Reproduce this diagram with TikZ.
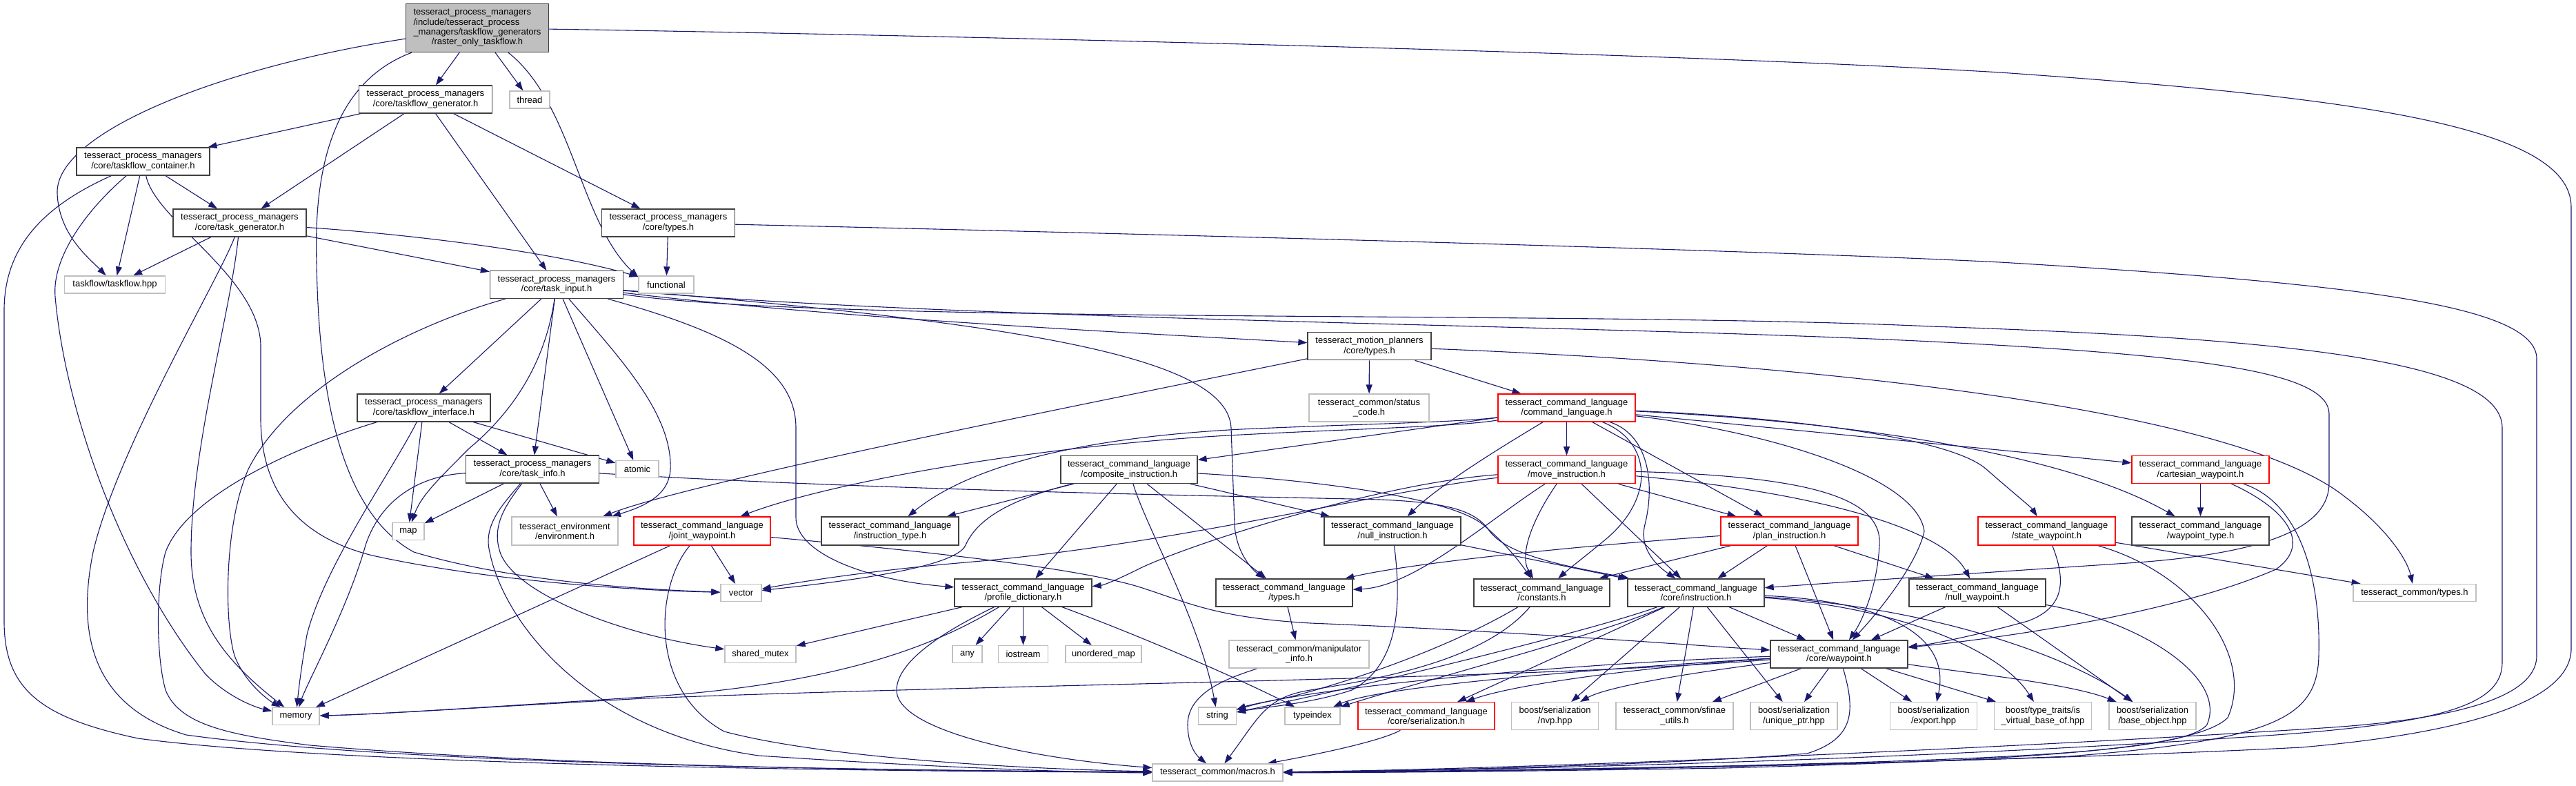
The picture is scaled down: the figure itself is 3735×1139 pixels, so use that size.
\documentclass[tikz,border=0pt]{standalone}
\usepackage{fontspec}
\setmainfont{Liberation Sans}
\usetikzlibrary{arrows.meta}
\definecolor{edgec}{HTML}{191970}
\definecolor{docc}{HTML}{404040}
\definecolor{extc}{HTML}{BFBFBF}
\definecolor{rootfill}{HTML}{BFBFBF}
\newcommand{\nodefont}{\fontsize{13}{14.3}\selectfont}
\pgfdeclarelayer{back}
\pgfdeclarelayer{edges}
\pgfsetlayers{back,edges,main}
\tikzset{
  gbox/.style={rectangle, inner sep=0pt, align=center, font=\nodefont, line width=1.3pt, fill=white},
  doc/.style={gbox, draw=docc},
  ext/.style={gbox, draw=extc},
  trunc/.style={gbox, draw=red},
  rootbox/.style={gbox, draw=docc, fill=rootfill},
  e/.style={draw=edgec, line width=1.1pt, -{Triangle[length=13pt,width=9pt]}},
}
\begin{document}
\begin{tikzpicture}[x=1pt,y=-1pt]
\begin{pgfonlayer}{back}
\fill[white] (0,0) rectangle (3735,1139);
\end{pgfonlayer}
\path[use as bounding box] (0,0) rectangle (3735,1139);

% ---------- nodes ----------
\node[rootbox, minimum width=207pt, minimum height=70pt] (root) at (692,40.5)
  {\begin{tabular}{@{}l@{}}tesseract\_process\_managers\\/include/tesseract\_process\\\_managers/taskflow\_generators\\\multicolumn{1}{@{}c@{}}{/raster\_only\_taskflow.h}\end{tabular}};
\node[ext, minimum width=58pt, minimum height=25pt] (thread) at (768,144.5) {thread};
\node[doc, minimum width=193pt, minimum height=40pt] (tfgen) at (617,144) {tesseract\_process\_managers\\/core/taskflow\_generator.h};
\node[doc, minimum width=193pt, minimum height=40pt] (tfcont) at (207.5,234) {tesseract\_process\_managers\\/core/taskflow\_container.h};
\node[doc, minimum width=193pt, minimum height=40pt] (taskgen) at (347.5,323) {tesseract\_process\_managers\\/core/task\_generator.h};
\node[doc, minimum width=193pt, minimum height=40pt] (pmtypes) at (969,323) {tesseract\_process\_managers\\/core/types.h};
\node[ext, minimum width=146pt, minimum height=25pt] (tfhpp) at (166.5,412.5) {taskflow/taskflow.hpp};
\node[ext, minimum width=80pt, minimum height=25pt] (functional) at (966,412.5) {functional};
\node[doc, minimum width=193pt, minimum height=40pt] (taskinput) at (807,412.5) {tesseract\_process\_managers\\/core/task\_input.h};
\node[doc, minimum width=179pt, minimum height=40pt] (mptypes) at (1985.5,501.7) {tesseract\_motion\_planners\\/core/types.h};
\node[doc, minimum width=193pt, minimum height=40pt] (tfiface) at (614.5,591) {tesseract\_process\_managers\\/core/taskflow\_interface.h};
\node[ext, minimum width=174pt, minimum height=40pt] (statuscode) at (1985,591) {tesseract\_common/status\\\_code.h};
\node[trunc, minimum width=199pt, minimum height=40pt] (cmdlang) at (2271.5,591) {tesseract\_command\_language\\/command\_language.h};
\node[doc, minimum width=193pt, minimum height=40pt] (taskinfo) at (772,680) {tesseract\_process\_managers\\/core/task\_info.h};
\node[ext, minimum width=62pt, minimum height=25pt] (atomic) at (924,680) {atomic};
\node[doc, minimum width=198pt, minimum height=40pt] (compinst) at (1637,680.5) {tesseract\_command\_language\\/composite\_instruction.h};
\node[trunc, minimum width=199pt, minimum height=40pt] (moveinst) at (2271.5,680.7) {tesseract\_command\_language\\/move\_instruction.h};
\node[trunc, minimum width=199pt, minimum height=40pt] (cartwp) at (3190.5,680.5) {tesseract\_command\_language\\/cartesian\_waypoint.h};
\node[ext, minimum width=46pt, minimum height=25pt] (map) at (592,770) {map};
\node[ext, minimum width=154pt, minimum height=41pt] (env) at (819,769.5) {tesseract\_environment\\/environment.h};
\node[trunc, minimum width=198pt, minimum height=41pt] (jointwp) at (1018,769.5) {tesseract\_command\_language\\/joint\_waypoint.h};
\node[doc, minimum width=199pt, minimum height=41pt] (insttype) at (1290.5,769.5) {tesseract\_command\_language\\/instruction\_type.h};
\node[doc, minimum width=198pt, minimum height=41pt] (nullinst) at (2019,769.5) {tesseract\_command\_language\\/null\_instruction.h};
\node[trunc, minimum width=199pt, minimum height=41pt] (planinst) at (2594.5,769.5) {tesseract\_command\_language\\/plan\_instruction.h};
\node[trunc, minimum width=199pt, minimum height=41pt] (statewp) at (2967.5,769.5) {tesseract\_command\_language\\/state\_waypoint.h};
\node[doc, minimum width=199pt, minimum height=41pt] (wptype) at (3190.5,769.5) {tesseract\_command\_language\\/waypoint\_type.h};
\node[ext, minimum width=59pt, minimum height=25pt] (vector) at (1074.5,859) {vector};
\node[doc, minimum width=199pt, minimum height=40pt] (profdict) at (1483.5,859) {tesseract\_command\_language\\/profile\_dictionary.h};
\node[doc, minimum width=198pt, minimum height=40pt] (cltypes) at (1862,859) {tesseract\_command\_language\\/types.h};
\node[doc, minimum width=197pt, minimum height=40pt] (constants) at (2235.5,859) {tesseract\_command\_language\\/constants.h};
\node[doc, minimum width=198pt, minimum height=40pt] (coreinst) at (2459,859) {tesseract\_command\_language\\/core/instruction.h};
\node[doc, minimum width=198pt, minimum height=40pt] (nullwp) at (2867,859) {tesseract\_command\_language\\/null\_waypoint.h};
\node[ext, minimum width=178pt, minimum height=25pt] (commontypes) at (3501,859) {tesseract\_common/types.h};
\node[ext, minimum width=103pt, minimum height=25pt] (sharedmutex) at (1102.5,948) {shared\_mutex};
\node[ext, minimum width=43pt, minimum height=25pt] (any) at (1402.5,948) {any};
\node[ext, minimum width=72pt, minimum height=25pt] (iostream) at (1483.5,948) {iostream};
\node[ext, minimum width=110pt, minimum height=25pt] (unordmap) at (1600,948) {unordered\_map};
\node[ext, minimum width=203pt, minimum height=40pt] (manip) at (1883.5,948) {tesseract\_common/manipulator\\\_info.h};
\node[doc, minimum width=199pt, minimum height=40pt] (corewp) at (2666.5,948) {tesseract\_command\_language\\/core/waypoint.h};
\node[ext, minimum width=68pt, minimum height=25pt] (memory) at (429,1038) {memory};
\node[ext, minimum width=55pt, minimum height=25pt] (string) at (1765,1037.5) {string};
\node[ext, minimum width=80pt, minimum height=25pt] (typeindex) at (1903,1037.5) {typeindex};
\node[trunc, minimum width=198pt, minimum height=40pt] (serial) at (2068,1037.7) {tesseract\_command\_language\\/core/serialization.h};
\node[ext, minimum width=126pt, minimum height=40pt] (nvp) at (2254.6,1037.7) {boost/serialization\\/nvp.hpp};
\node[ext, minimum width=170pt, minimum height=40pt] (sfinae) at (2428,1037.7) {tesseract\_common/sfinae\\\_utils.h};
\node[ext, minimum width=126pt, minimum height=40pt] (uniqueptr) at (2601,1037.7) {boost/serialization\\/unique\_ptr.hpp};
\node[ext, minimum width=126pt, minimum height=40pt] (export) at (2803.6,1037.7) {boost/serialization\\/export.hpp};
\node[ext, minimum width=141pt, minimum height=40pt] (isvirtual) at (2962,1037.7) {boost/type\_traits/is\\\_virtual\_base\_of.hpp};
\node[ext, minimum width=126pt, minimum height=40pt] (baseobj) at (3121,1037.7) {boost/serialization\\/base\_object.hpp};
\node[ext, minimum width=189pt, minimum height=25pt] (macros) at (1765.5,1119.5) {tesseract\_common/macros.h};

% ---------- edges ----------
\begin{pgfonlayer}{edges}
% root
\draw[e] (root) -- (tfgen);
\draw[e] (root) -- (thread);
\draw[e] (root) .. controls (330,95) and (80,190) .. (83,280) .. controls (85,340) and (130,375) .. (tfhpp);
\draw[e] (root) .. controls (480,120) and (455,250) .. (459,380) .. controls (462,560) and (490,740) .. (600,800) .. controls (750,845) and (950,855) .. (vector);
\draw[e] (root) .. controls (830,150) and (840,320) .. (functional.165);
\draw[e] (root) .. controls (1300,50) and (2400,75) .. (2900,105) .. controls (3400,140) and (3728,180) .. (3728,300) -- (3728,940) .. controls (3728,1010) and (3600,1060) .. (3337,1083) .. controls (2900,1105) and (2200,1118) .. (macros);
% taskflow_generator
\draw[e] (tfgen) -- (tfcont);
\draw[e] (tfgen) -- (taskgen);
\draw[e] (tfgen) -- (taskinput);
\draw[e] (tfgen) -- (pmtypes);
% taskflow_container
\draw[e] (tfcont) -- (taskgen);
\draw[e] (tfcont) -- (tfhpp);
\draw[e] (tfcont) .. controls (130,300) and (75,370) .. (80,430) .. controls (95,600) and (180,830) .. (298,977) .. controls (330,1010) and (370,1025) .. (memory);
\draw[e] (tfcont) .. controls (225,320) and (375,400) .. (378,500) -- (378,610) .. controls (380,720) and (440,780) .. (540,805) .. controls (700,840) and (900,855) .. (vector);
\draw[e] (tfcont) .. controls (60,300) and (6,360) .. (6,450) -- (6,900) .. controls (6,1000) and (60,1040) .. (200,1070) .. controls (500,1110) and (1300,1118) .. (macros);
% task_generator
\draw[e] (taskgen) -- (tfhpp);
\draw[e] (taskgen) .. controls (320,400) and (170,650) .. (135,800) .. controls (115,900) and (120,1020) .. (270,1065) .. controls (600,1110) and (1300,1116) .. (macros);
\draw[e] (taskgen) .. controls (335,450) and (277,650) .. (277,800) .. controls (277,900) and (330,960) .. (memory);
\draw[e] (taskgen) .. controls (600,340) and (800,365) .. (functional);
\draw[e] (taskgen) -- (taskinput);
% pm types
\draw[e] (pmtypes) -- (functional);
\draw[e] (pmtypes) .. controls (1500,335) and (2500,360) .. (2900,380) .. controls (3400,410) and (3678,440) .. (3678,520) -- (3678,950) .. controls (3678,1000) and (3600,1040) .. (3367,1055) .. controls (2900,1085) and (2200,1115) .. (macros);
% task_input
\draw[e] (taskinput) -- (tfiface);
\draw[e] (taskinput) -- (taskinfo);
\draw[e] (taskinput) .. controls (790,530) and (740,600) .. (680,650) .. controls (630,700) and (610,720) .. (map);
\draw[e] (taskinput) -- (atomic);
\draw[e] (taskinput) .. controls (900,520) and (975,600) .. (972,680) .. controls (970,720) and (930,735) .. (env);
\draw[e] (taskinput) .. controls (600,470) and (420,560) .. (360,680) .. controls (325,760) and (325,900) .. (340,950) .. controls (355,990) and (390,1015) .. (memory);
\draw[e] (taskinput) .. controls (1200,470) and (2300,450) .. (2800,473) .. controls (3300,490) and (3628,520) .. (3628,620) -- (3628,960) .. controls (3628,1020) and (3546,1047) .. (3300,1065) .. controls (2800,1100) and (2200,1116) .. (macros);
\draw[e] (taskinput) .. controls (1400,465) and (2300,470) .. (2800,495) .. controls (3200,515) and (3377,540) .. (3377,600) -- (3377,700) .. controls (3377,760) and (3300,800) .. (3100,815) .. controls (2800,835) and (2650,845) .. (coreinst);
\draw[e] (taskinput) .. controls (1200,460) and (1600,480) .. (mptypes);
\draw[e] (taskinput) .. controls (1050,480) and (1154,530) .. (1154,620) -- (1154,750) .. controls (1154,800) and (1250,840) .. (profdict);
\draw[e] (taskinput) .. controls (1500,470) and (1780,520) .. (1785,620) -- (1790,760) .. controls (1792,800) and (1815,825) .. (cltypes);
% motion planners types
\draw[e] (mptypes) -- (statuscode);
\draw[e] (mptypes) -- (cmdlang);
\draw[e] (mptypes) .. controls (1500,600) and (1000,700) .. (env);
\draw[e] (mptypes) .. controls (2700,530) and (3250,600) .. (3400,720) .. controls (3460,765) and (3490,810) .. (commontypes);
% taskflow_interface
\draw[e] (tfiface) -- (taskinfo);
\draw[e] (tfiface) -- (atomic);
\draw[e] (tfiface) -- (map);
\draw[e] (tfiface) .. controls (570,680) and (470,820) .. (445,920) .. controls (438,960) and (434,990) .. (memory);
\draw[e] (tfiface) .. controls (420,650) and (270,720) .. (240,800) .. controls (226,850) and (226,950) .. (240,1000) .. controls (260,1050) and (330,1065) .. (450,1080) .. controls (800,1110) and (1300,1117) .. (macros);
% task_info
\draw[e] (taskinfo) -- (map);
\draw[e] (taskinfo) -- (env);
\draw[e] (taskinfo) .. controls (600,690) and (550,730) .. (530,790) .. controls (505,880) and (445,990) .. (memory);
\draw[e] (taskinfo) .. controls (735,730) and (712,760) .. (725,800) .. controls (745,860) and (900,920) .. (sharedmutex);
\draw[e] (taskinfo) .. controls (730,730) and (700,760) .. (710,800) .. controls (730,900) and (850,1060) .. (1100,1095) .. controls (1400,1115) and (1600,1120) .. (macros);
\draw[e] (taskinfo) .. controls (1300,712) and (1850,720) .. (2000,724) .. controls (2100,728) and (2140,740) .. (2160,770) .. controls (2190,810) and (2300,825) .. (coreinst);
% joint_waypoint
\draw[e] (jointwp) -- (vector);
\draw[e] (jointwp) -- (memory);
\draw[e] (jointwp) .. controls (1300,795) and (1550,820) .. (1650,850) .. controls (1720,872) and (1760,895) .. (1900,903) .. controls (2200,915) and (2450,935) .. (corewp);
\draw[e] (jointwp) .. controls (950,850) and (940,1000) .. (1050,1060) .. controls (1200,1100) and (1500,1115) .. (macros);
% composite_instruction
\draw[e] (compinst) -- (insttype);
\draw[e] (compinst) -- (nullinst);
\draw[e] (compinst) -- (profdict);
\draw[e] (compinst) .. controls (1480,720) and (1420,745) .. (1400,790) .. controls (1385,825) and (1200,845) .. (vector);
\draw[e] (compinst) .. controls (1660,760) and (1740,900) .. (string);
\draw[e] (compinst) -- (cltypes);
\draw[e] (compinst) .. controls (1900,695) and (2100,720) .. (2150,760) .. controls (2185,790) and (2200,810) .. (constants);
% command_language
\draw[e] (cmdlang) -- (compinst);
\draw[e] (cmdlang) .. controls (2120,618) and (1950,622) .. (1800,630) .. controls (1500,645) and (1200,700) .. (jointwp);
\draw[e] (cmdlang) .. controls (2120,612) and (1950,615) .. (1800,622) .. controls (1550,635) and (1400,680) .. (insttype);
\draw[e] (cmdlang) -- (moveinst);
\draw[e] (cmdlang) .. controls (2190,640) and (2090,700) .. (nullinst);
\draw[e] (cmdlang) -- (planinst);
\draw[e] (cmdlang) -- (cartwp);
\draw[e] (cmdlang) .. controls (2600,605) and (2830,635) .. (2880,680) .. controls (2920,715) and (2945,735) .. (statewp);
\draw[e] (cmdlang) .. controls (2700,612) and (3000,660) .. (wptype);
\draw[e] (cmdlang) .. controls (2390,630) and (2400,700) .. (2385,760) .. controls (2375,800) and (2410,825) .. (coreinst);
\draw[e] (cmdlang) .. controls (2395,640) and (2400,720) .. (2330,780) .. controls (2300,805) and (2280,820) .. (constants);
\draw[e] (cmdlang) .. controls (2560,625) and (2780,690) .. (2790,770) .. controls (2780,815) and (2730,880) .. (corewp);
% move_instruction
\draw[e] (moveinst) -- (planinst);
\draw[e] (moveinst) .. controls (2000,712) and (1700,790) .. (1400,815) .. controls (1250,828) and (1150,845) .. (vector);
\draw[e] (moveinst) .. controls (2000,700) and (1720,790) .. (1650,825) .. controls (1620,840) and (1600,848) .. (profdict);
\draw[e] (moveinst) .. controls (2230,740) and (2200,800) .. (constants);
\draw[e] (moveinst) -- (coreinst);
\draw[e] (moveinst) .. controls (2150,760) and (2050,850) .. (cltypes);
\draw[e] (moveinst) .. controls (2620,690) and (2730,720) .. (2725,790) .. controls (2722,850) and (2700,900) .. (corewp);
\draw[e] (moveinst) .. controls (2650,715) and (2820,770) .. (nullwp);
% plan_instruction
\draw[e] (planinst) -- (coreinst);
\draw[e] (planinst) -- (corewp);
\draw[e] (planinst) -- (nullwp);
\draw[e] (planinst) -- (constants);
\draw[e] (planinst) .. controls (2300,790) and (2050,815) .. (cltypes);
% null_instruction
\draw[e] (nullinst) -- (coreinst);
\draw[e] (nullinst) .. controls (2030,860) and (2035,960) .. (1960,1000) .. controls (1900,1020) and (1830,1025) .. (string);
% constants
\draw[e] (constants) .. controls (2100,940) and (1950,990) .. (1870,1010) .. controls (1830,1018) and (1810,1022) .. (string);
\draw[e] (constants) .. controls (2150,960) and (1990,985) .. (1900,1000) .. controls (1835,1010) and (1825,1040) .. (macros);
% core/instruction
\draw[e] (coreinst) -- (corewp);
\draw[e] (coreinst) -- (serial);
\draw[e] (coreinst) -- (nvp);
\draw[e] (coreinst) -- (sfinae);
\draw[e] (coreinst) -- (uniqueptr);
\draw[e] (coreinst) .. controls (2720,870) and (2830,915) .. (export);
\draw[e] (coreinst) .. controls (2750,880) and (2900,940) .. (isvirtual);
\draw[e] (coreinst) .. controls (2800,880) and (3000,950) .. (baseobj);
\draw[e] (coreinst) .. controls (2320,910) and (2000,990) .. (string);
\draw[e] (coreinst) .. controls (2320,920) and (2050,990) .. (typeindex);
% core/waypoint
\draw[e] (corewp) -- (sfinae);
\draw[e] (corewp) -- (uniqueptr);
\draw[e] (corewp) -- (export);
\draw[e] (corewp) -- (isvirtual);
\draw[e] (corewp) .. controls (2850,975) and (3000,990) .. (baseobj);
\draw[e] (corewp) .. controls (2450,975) and (2330,995) .. (nvp);
\draw[e] (corewp) .. controls (2400,965) and (2200,990) .. (serial);
\draw[e] (corewp) .. controls (2300,960) and (1900,995) .. (string);
\draw[e] (corewp) .. controls (2300,970) and (2000,995) .. (typeindex);
\draw[e] (corewp) .. controls (2200,985) and (1500,990) .. (934,1012) .. controls (700,1025) and (550,1035) .. (memory);
\draw[e] (corewp) .. controls (2690,1030) and (2690,1070) .. (2620,1092) .. controls (2400,1110) and (2000,1118) .. (macros);
% null_waypoint
\draw[e] (nullwp) -- (corewp);
\draw[e] (nullwp) -- (baseobj);
\draw[e] (nullwp) .. controls (3100,900) and (3230,980) .. (3200,1050) .. controls (3170,1090) and (2900,1100) .. (2500,1110) .. controls (2200,1116) and (1950,1119) .. (macros);
% state_waypoint
\draw[e] (statewp) .. controls (2995,840) and (2995,880) .. (2940,900) .. controls (2850,925) and (2790,935) .. (corewp);
\draw[e] (statewp) -- (commontypes);
\draw[e] (statewp) .. controls (3180,830) and (3270,950) .. (3230,1040) .. controls (3180,1090) and (2900,1102) .. (2500,1113) .. controls (2200,1118) and (1950,1120) .. (macros);
% cartesian_waypoint
\draw[e] (cartwp) -- (wptype);
\draw[e] (cartwp) .. controls (3320,740) and (3350,790) .. (3300,825) .. controls (3150,890) and (2900,925) .. (corewp);
\draw[e] (cartwp) .. controls (3340,730) and (3365,850) .. (3362,950) .. controls (3360,1040) and (3300,1072) .. (3000,1096) .. controls (2600,1112) and (2100,1119) .. (macros);
% profile_dictionary
\draw[e] (profdict) -- (sharedmutex);
\draw[e] (profdict) -- (any);
\draw[e] (profdict) -- (iostream);
\draw[e] (profdict) -- (unordmap);
\draw[e] (profdict) .. controls (1380,920) and (1250,990) .. (934,1010) .. controls (700,1025) and (550,1035) .. (memory);
\draw[e] (profdict) .. controls (1650,920) and (1800,985) .. (typeindex);
\draw[e] (profdict) .. controls (1400,900) and (1300,950) .. (1300,1000) .. controls (1300,1060) and (1500,1100) .. (macros);
% types, manipulator, serialization
\draw[e] (cltypes) -- (manip);
\draw[e] (manip) .. controls (1790,980) and (1722,1000) .. (1722,1050) .. controls (1722,1080) and (1735,1095) .. (macros);
\draw[e] (serial) .. controls (2000,1075) and (1900,1095) .. (macros);
\end{pgfonlayer}
\end{tikzpicture}
\end{document}
